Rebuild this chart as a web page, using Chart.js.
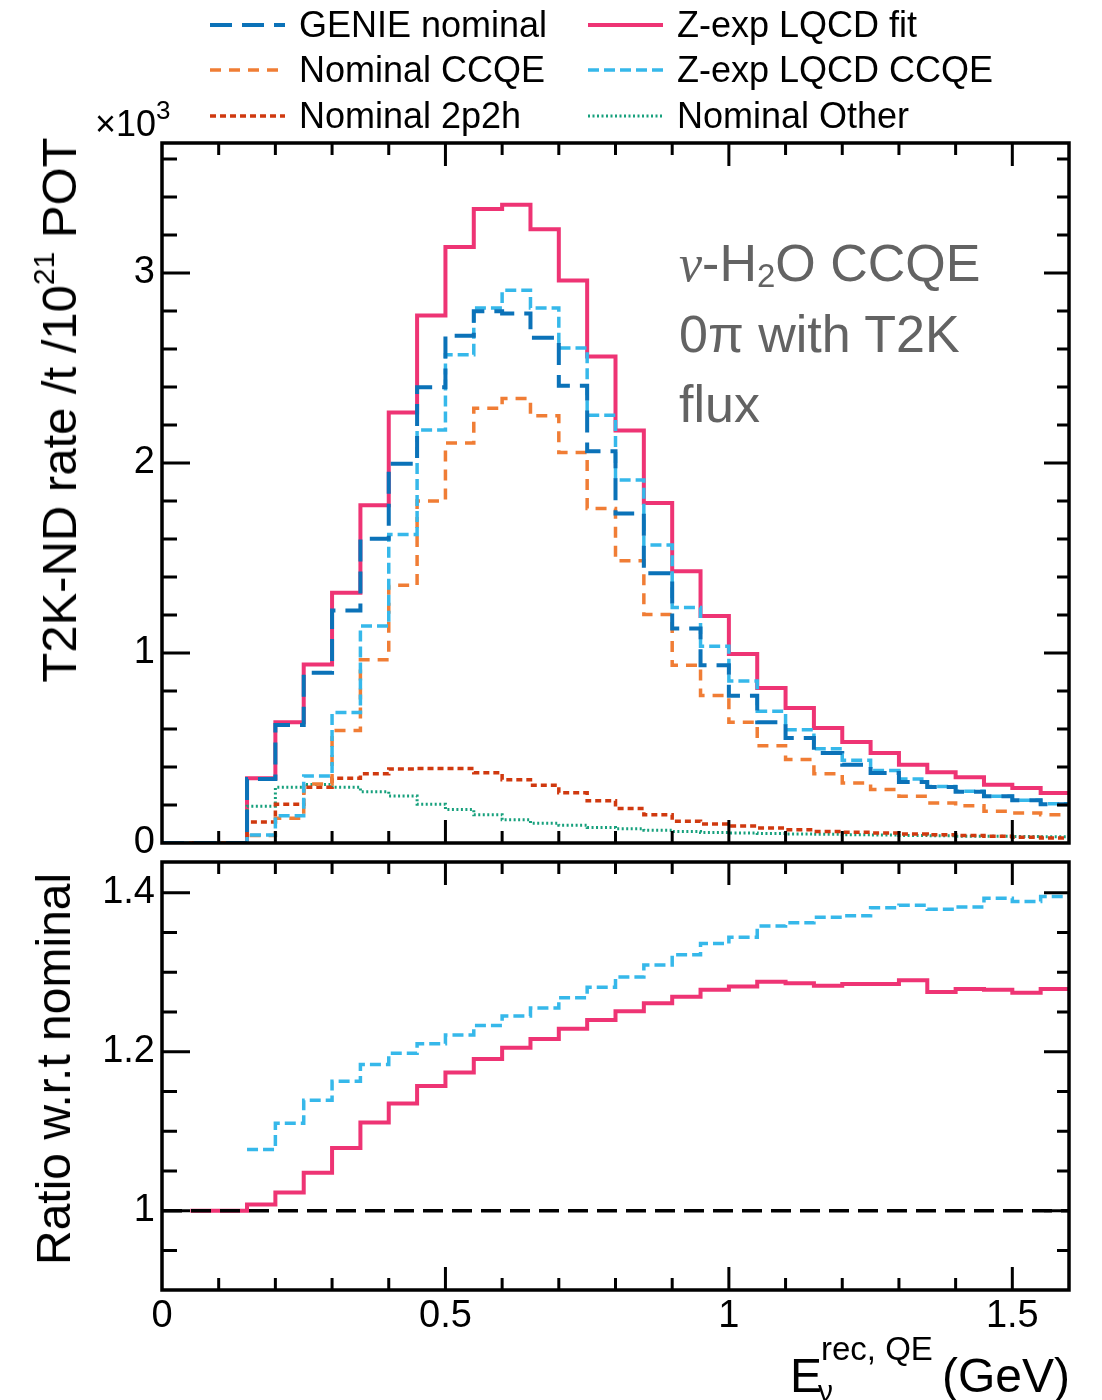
<!DOCTYPE html>
<html>
<head>
<meta charset="utf-8">
<script src="https://cdn.jsdelivr.net/npm/chart.js@4.4.0/dist/chart.umd.min.js"></script>
<style>
  body { margin: 0; background: #fff; }
  #wrap { position: relative; width: 1102px; height: 1400px; overflow: hidden;
          font-family: "Liberation Sans", Arial, Helvetica, sans-serif; color: #000; }
  canvas { position: absolute; left: 0; }
  #topChart { top: 0; }
  #ratioChart { top: 800px; }
  .t { position: absolute; white-space: nowrap; }
  #legend { position: absolute; left: 210px; top: 2px; display: grid;
            grid-template-columns: 378px 420px; grid-auto-rows: 45.5px; font-size: 36px; }
  #legend div { display: flex; align-items: center; }
  #legend svg { margin-right: 14px; }
  .ytitle { font-size: 49px; line-height: 56px; transform: translate(-50%, -50%) rotate(-90deg); }
  .ytitle sup { font-size: 30px; vertical-align: 22px; line-height: 0; }
  #note { left: 679px; top: 228px; font-size: 52px; line-height: 70px; color: #636363; }
  #note sub { font-size: 33px; vertical-align: -6px; line-height: 0; }
</style>
</head>
<body>
<div id="wrap">
  <canvas id="topChart" width="1102" height="900"></canvas>
  <canvas id="ratioChart" width="1102" height="600"></canvas>

  <div id="legend"></div>

  <div class="t" style="left:95px; top:104px; font-size:36px; line-height:40px;">×10<span style="font-size:26px; position:relative; top:-17px;">3</span></div>

  <div class="t ytitle" style="left:59px; top:410px;">T2K-ND rate /t /10<sup>21</sup> POT</div>
  <div class="t ytitle" style="left:54px; top:1069px; font-size:48px;">Ratio w.r.t nominal</div>

  <div class="t" id="note"><i style="font-family:'Liberation Serif', serif;">ν</i>-H<sub>2</sub>O CCQE<br>0π with T2K<br>flux</div>

  <div class="t" style="left:790px; top:1352px; font-size:48px; line-height:48px;">E</div>
  <div class="t" style="left:821px; top:1332px; font-size:33px; line-height:33px;">rec, QE</div>
  <div class="t" style="left:818px; top:1376px; font-size:30px; line-height:30px;">ν</div>
  <div class="t" style="right:32px; top:1352px; font-size:48px; line-height:48px;">(GeV)</div>
</div>

<script>
// bin edges of E_nu^{rec,QE} (GeV), 0.05 GeV wide
const binEdges = [0, 0.05, 0.1, 0.15, 0.2, 0.25, 0.3, 0.35, 0.4, 0.45, 0.5, 0.55, 0.6, 0.65, 0.7, 0.75, 0.8,
                  0.85, 0.9, 0.95, 1.0, 1.05, 1.1, 1.15, 1.2, 1.25, 1.3, 1.35, 1.4, 1.45, 1.5, 1.55, 1.6];

// rates in units of 10^3 /t /10^21 POT
const genieNominal = [0, 0, 0, 0.337, 0.621, 0.896, 1.224, 1.601, 1.996, 2.399, 2.670, 2.798, 2.787, 2.659, 2.406, 2.062,
                      1.734, 1.419, 1.129, 0.936, 0.775, 0.635, 0.553, 0.474, 0.412, 0.368, 0.321, 0.295, 0.270, 0.246, 0.225, 0.204];
const nominalCCQE  = [0, 0, 0, 0.039, 0.130, 0.310, 0.592, 0.965, 1.357, 1.800, 2.105, 2.288, 2.339, 2.248, 2.055, 1.760,
                      1.486, 1.202, 0.936, 0.776, 0.635, 0.512, 0.439, 0.365, 0.316, 0.281, 0.246, 0.211, 0.196, 0.167, 0.158, 0.149];
const nominal2p2h  = [0, 0, 0, 0.111, 0.204, 0.293, 0.341, 0.364, 0.390, 0.392, 0.392, 0.370, 0.333, 0.304, 0.264, 0.222,
                      0.182, 0.149, 0.115, 0.100, 0.090, 0.079, 0.070, 0.061, 0.056, 0.053, 0.047, 0.044, 0.039, 0.035, 0.030, 0.026];
const nominalOther = [0, 0, 0, 0.193, 0.293, 0.308, 0.293, 0.270, 0.248, 0.204, 0.176, 0.149, 0.122, 0.104, 0.093, 0.082,
                      0.075, 0.067, 0.060, 0.055, 0.053, 0.050, 0.048, 0.046, 0.044, 0.042, 0.040, 0.038, 0.036, 0.035, 0.034, 0.033];
const zexpFit      = [0, 0, 0, 0.341, 0.636, 0.940, 1.317, 1.778, 2.266, 2.776, 3.137, 3.337, 3.359, 3.230, 2.960, 2.561,
                      2.171, 1.789, 1.430, 1.195, 0.995, 0.816, 0.711, 0.605, 0.532, 0.474, 0.412, 0.372, 0.346, 0.307, 0.289, 0.263];
const zexpCCQE     = [0, 0, 0, 0.042, 0.144, 0.353, 0.687, 1.142, 1.623, 2.173, 2.570, 2.816, 2.909, 2.816, 2.605, 2.251,
                      1.911, 1.568, 1.239, 1.035, 0.852, 0.693, 0.596, 0.496, 0.435, 0.382, 0.337, 0.298, 0.272, 0.246, 0.225, 0.207];

// ratios w.r.t. nominal
const ratioFit  = [null, 1.0, 1.0, 1.008, 1.023, 1.048, 1.079, 1.111, 1.135, 1.157, 1.174, 1.191, 1.205, 1.216, 1.229, 1.240,
                   1.251, 1.261, 1.269, 1.278, 1.282, 1.288, 1.286, 1.283, 1.285, 1.285, 1.290, 1.275, 1.279, 1.278, 1.274, 1.279];
const ratioCCQE = [null, null, null, 1.077, 1.110, 1.139, 1.163, 1.184, 1.198, 1.210, 1.221, 1.233, 1.245, 1.255, 1.268, 1.281,
                   1.294, 1.309, 1.322, 1.336, 1.344, 1.358, 1.362, 1.369, 1.371, 1.381, 1.384, 1.379, 1.382, 1.393, 1.389, 1.395];
const ratioRef = 1;

const xTicks = [0, 0.5, 1, 1.5];
const rateTicks = [0, 1, 2, 3];
const ratioTicks = [1, 1.2, 1.4];

const FONT = '"Liberation Sans", Arial, Helvetica, sans-serif';

const styles = {
  genie: { label: 'GENIE nominal',    color: '#0b72b8', width: 4,   dash: [22, 10] },
  nccqe: { label: 'Nominal CCQE',     color: '#f07d35', width: 3.5, dash: [11, 8] },
  n2p2h: { label: 'Nominal 2p2h',     color: '#d0390f', width: 3.5, dash: [6, 4] },
  zfit:  { label: 'Z-exp LQCD fit',   color: '#ee3474', width: 4,   dash: [] },
  zccqe: { label: 'Z-exp LQCD CCQE',  color: '#36b8ea', width: 3.5, dash: [11, 5] },
  other: { label: 'Nominal Other',    color: '#16a07c', width: 3,   dash: [2, 2.5] }
};

// legend (two columns, drawn as html)
const legendOrder = ['genie', 'zfit', 'nccqe', 'zccqe', 'n2p2h', 'other'];
const legend = document.getElementById('legend');
legendOrder.forEach(k => {
  const s = styles[k];
  const d = document.createElement('div');
  d.innerHTML = '<svg width="75" height="12"><line x1="0" y1="6" x2="75" y2="6" stroke="' + s.color +
    '" stroke-width="' + s.width + '" stroke-dasharray="' + s.dash.join(' ') + '"/></svg><span>' + s.label + '</span>';
  legend.appendChild(d);
});

function histPoints(vals) {
  const pts = vals.map((v, i) => ({ x: binEdges[i], y: v }));
  pts.push({ x: binEdges[vals.length], y: vals[vals.length - 1] });
  return pts;
}

function histSet(key, vals) {
  const s = styles[key];
  return { label: s.label, data: histPoints(vals), borderColor: s.color, borderWidth: s.width,
           borderDash: s.dash, stepped: 'before', pointRadius: 0, fill: false,
           borderCapStyle: 'butt', borderJoinStyle: 'miter' };
}

function near(v, step) { return Math.abs(v / step - Math.round(v / step)) < 1e-6; }

// frame + inward ticks on all four sides (ROOT style)
const frameTicks = {
  id: 'frameTicks',
  afterDraw(chart, args, o) {
    const { ctx, chartArea: a } = chart;
    const x = chart.scales.x, y = chart.scales.y;
    ctx.save();
    ctx.strokeStyle = '#000';
    ctx.lineWidth = 3;
    ctx.beginPath();
    for (let i = 1; i * o.xStep < x.max - 1e-9; i++) {
      const v = i * o.xStep;
      const px = x.getPixelForValue(v);
      const len = near(v, o.xMajor) ? 23 : 12;
      ctx.moveTo(px, a.bottom); ctx.lineTo(px, a.bottom - len);
      ctx.moveTo(px, a.top); ctx.lineTo(px, a.top + len);
    }
    for (let i = 0; o.yStart + i * o.yStep < y.max - 1e-9; i++) {
      const v = o.yStart + i * o.yStep;
      if (v <= y.min + 1e-9) continue;
      const py = y.getPixelForValue(v);
      const maj = near(v, o.yMajor);
      ctx.moveTo(a.left, py); ctx.lineTo(a.left + (maj ? 28 : 15), py);
      ctx.moveTo(a.right, py); ctx.lineTo(a.right - (maj ? 25 : 12), py);
    }
    ctx.stroke();
    ctx.lineWidth = 3.5;
    ctx.strokeRect(a.left, a.top, a.right - a.left, a.bottom - a.top);
    ctx.restore();
  }
};

const tickFont = { family: FONT, size: 38 };

function yScale(min, max, list, pad) {
  return {
    type: 'linear', min: min, max: max,
    afterFit: s => { s.width = 162; },
    afterBuildTicks: s => { s.ticks = list.map(v => ({ value: v })); },
    grid: { display: false, drawTicks: false }, border: { display: false },
    ticks: { padding: pad, font: tickFont, color: '#000', autoSkip: false, callback: v => String(v) }
  };
}

new Chart(document.getElementById('topChart'), {
  type: 'line',
  data: {
    datasets: [
      histSet('genie', genieNominal),
      histSet('zccqe', zexpCCQE),
      histSet('nccqe', nominalCCQE),
      histSet('n2p2h', nominal2p2h),
      histSet('other', nominalOther),
      histSet('zfit', zexpFit)
    ]
  },
  options: {
    responsive: false, animation: false, events: [],
    layout: { padding: { left: 0, right: 33, top: 143, bottom: 57 } },
    plugins: { legend: { display: false }, tooltip: { enabled: false },
               frameTicks: { xStep: 0.1, xMajor: 0.5, yStart: 0, yStep: 0.2, yMajor: 1 } },
    scales: {
      x: { type: 'linear', min: 0, max: 1.6, display: false },
      y: yScale(0, 3.684, rateTicks, 7)
    }
  },
  plugins: [frameTicks]
});

// ratio panel: canvas starts at 800, plot frame 862..1290
new Chart(document.getElementById('ratioChart'), {
  type: 'line',
  data: {
    datasets: [
      { label: 'unity', data: [{ x: binEdges[0], y: ratioRef }, { x: binEdges[binEdges.length - 1], y: ratioRef }],
        borderColor: '#000', borderWidth: 3.5, borderDash: [20, 9], pointRadius: 0, fill: false, borderCapStyle: 'butt' },
      histSet('zccqe', ratioCCQE),
      histSet('zfit', ratioFit)
    ]
  },
  options: {
    responsive: false, animation: false, events: [],
    layout: { padding: { left: 0, right: 33, top: 62, bottom: 0 } },
    plugins: { legend: { display: false }, tooltip: { enabled: false },
               frameTicks: { xStep: 0.1, xMajor: 0.5, yStart: 0.9, yStep: 0.05, yMajor: 0.2 } },
    scales: {
      x: {
        type: 'linear', min: 0, max: 1.6,
        afterFit: s => { s.height = 110; },
        afterBuildTicks: s => { s.ticks = xTicks.map(v => ({ value: v })); },
        grid: { display: false, drawTicks: false }, border: { display: false },
        ticks: { padding: 4, font: tickFont, color: '#000', autoSkip: false, maxRotation: 0, callback: v => String(v) }
      },
      y: yScale(0.9005, 1.4385, ratioTicks, 7)
    }
  },
  plugins: [frameTicks]
});
</script>
</body>
</html>
